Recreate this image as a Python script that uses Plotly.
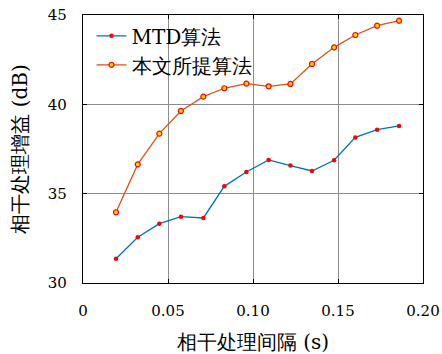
import plotly.graph_objects as go

x_vals = [0.0194, 0.0322, 0.0449, 0.0576, 0.0708, 0.0831, 0.0961, 0.1092,
          0.1220, 0.1347, 0.1477, 0.1602, 0.1730, 0.1859]
mtd = [31.36, 32.56, 33.32, 33.71, 33.64, 35.41, 36.21, 36.89,
       36.57, 36.27, 36.87, 38.15, 38.58, 38.79]
proposed = [33.96, 36.64, 38.36, 39.63, 40.43, 40.90, 41.16, 41.01,
            41.14, 42.26, 43.19, 43.88, 44.40, 44.68]
names = ["MTD算法", "本文所提算法"]
x_ticks = [0, 0.05, 0.10, 0.15, 0.20]
x_ticktext = ["0", "0.05", "0.10", "0.15", "0.20"]
y_ticks = [30, 35, 40, 45]

FONT = "DejaVu Serif"

fig = go.Figure()
fig.add_trace(go.Scatter(
    x=x_vals, y=mtd, name=names[0], mode="lines+markers",
    line=dict(color="#0072BD", width=1.3),
    marker=dict(symbol="circle", size=4.5, color="#FF0000", line=dict(width=0))))
fig.add_trace(go.Scatter(
    x=x_vals, y=proposed, name=names[1], mode="lines+markers",
    line=dict(color="#D95319", width=1.3),
    marker=dict(symbol="circle", size=5, color="#FFD700", line=dict(color="#FF0000", width=1.2))))

axis_common = dict(
    showgrid=True, gridcolor="#8c8c8c", gridwidth=1,
    showline=True, linecolor="black", linewidth=1.2, mirror="ticks",
    ticks="inside", ticklen=4, tickcolor="black", tickwidth=1,
    zeroline=False, automargin=False,
    tickfont=dict(family=FONT, size=15, color="black"),
)

fig.update_xaxes(range=[0, 0.2], tickvals=x_ticks, ticktext=x_ticktext,
                 ticklabelstandoff=14,
                 title=dict(text="相干处理间隔 (s)", font=dict(family=FONT, size=20, color="black"), standoff=16),
                 **axis_common)
fig.update_yaxes(range=[30, 45], tickvals=y_ticks,
                 ticklabelstandoff=12,
                 title=dict(text="相干处理增益 (dB)", font=dict(family=FONT, size=20, color="black"), standoff=14),
                 **axis_common)

fig.update_layout(
    width=442, height=354,
    margin=dict(l=83, r=19, t=15, b=71),
    plot_bgcolor="white", paper_bgcolor="white",
    font=dict(family=FONT, color="black"),
    legend=dict(x=0.025, y=0.995, xanchor="left", yanchor="top",
                bgcolor="rgba(255,255,255,0)", borderwidth=0,
                font=dict(family=FONT, size=20, color="black"),
                itemwidth=30, tracegroupgap=0),
    showlegend=True,
)

fig.write_html("out.html")
